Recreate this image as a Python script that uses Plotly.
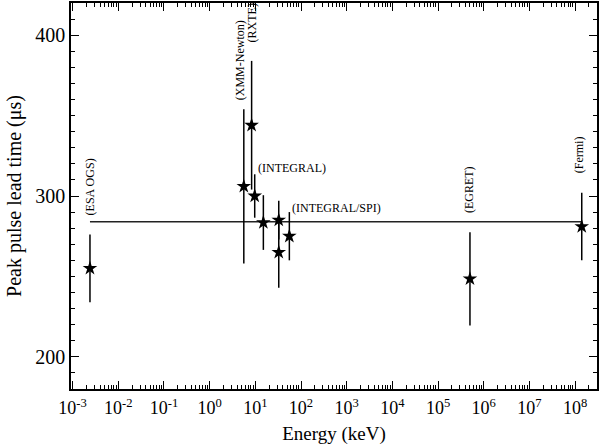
import math
import plotly.graph_objects as go

#################
# Data
#################
energy_kev = [2.4e-3, 5.6, 8.3, 9.7, 15, 32.6, 32.6, 55.6, 5.0e5, 1.4e8]
lead_time = [255, 306, 344, 300, 283.5, 285, 265, 275, 248.5, 281]
lead_err = [21, 48, 40, 13.5, 17, 12, 22, 15, 29, 21]

mean_lead = 284  # weighted mean, drawn across the energy range

label_text = ["(ESA OGS)", "(XMM-Newton)", "(RXTE)", "(INTEGRAL)",
              "(INTEGRAL/SPI)", "(EGRET)", "(Fermi)"]
label_energy = [2.4e-3, 4.7, 8.5, 9.7, 55.6, 4.6e5, 1.2e8]
label_y = [287, 358.5, 394, 317.5, 292.5, 288, 313]
label_rot = [-90, -90, -90, 0, 0, -90, -90]

tick_exp = list(range(-3, 9))

serif = "Liberation Serif, Times New Roman, serif"

fig = go.Figure()

# mean line from first to last measurement
fig.add_trace(go.Scatter(
    x=[energy_kev[0], energy_kev[-1]],
    y=[mean_lead, mean_lead],
    mode="lines",
    line=dict(color="#222222", width=1.5),
    hoverinfo="skip",
))

# measurements with error bars
fig.add_trace(go.Scatter(
    x=energy_kev,
    y=lead_time,
    mode="markers",
    marker=dict(symbol="star", size=11, color="black"),
    error_y=dict(type="data", array=lead_err, color="black", thickness=1.5, width=0),
))

# instrument labels (annotations on a log axis take log10 of x)
for txt, ex, ly, rot in zip(label_text, label_energy, label_y, label_rot):
    if rot == 0:
        fig.add_annotation(x=math.log10(ex), y=ly, text=txt, showarrow=False,
                           xanchor="left", yanchor="middle", xshift=1,
                           font=dict(family=serif, size=12, color="black"))
    else:
        fig.add_annotation(x=math.log10(ex), y=ly, text=txt, showarrow=False,
                           textangle=rot, xanchor="center", yanchor="bottom",
                           font=dict(family=serif, size=12, color="black"))

axis_style = dict(
    showline=True, linecolor="black", linewidth=1.5, mirror="allticks",
    ticks="inside", tickcolor="black", tickwidth=1.2, ticklen=8,
    showgrid=False, zeroline=False, automargin=False,
)

fig.update_xaxes(
    type="log",
    range=[-3.035, 8.48],
    tickvals=[10 ** e for e in tick_exp],
    ticktext=["10<sup>%d</sup>" % e for e in tick_exp],
    tickfont=dict(family=serif, size=18, color="black"),
    ticklabelstandoff=2,
    minor=dict(ticks="inside", ticklen=4, tickcolor="black", tickwidth=1, dtick="D1"),
    title=dict(text="Energy (keV)", font=dict(family=serif, size=19, color="black"), standoff=9),
    **axis_style,
)
fig.update_yaxes(
    range=[180, 420],
    dtick=100,
    tickfont=dict(family=serif, size=20, color="black"),
    minor=dict(ticks="inside", ticklen=4, tickcolor="black", tickwidth=1, dtick=10),
    title=dict(text="Peak pulse lead time (μs)", font=dict(family=serif, size=20, color="black"), standoff=8),
    **axis_style,
)

fig.update_layout(
    width=600, height=447,
    margin=dict(l=71, r=3, t=3, b=58),
    plot_bgcolor="white", paper_bgcolor="white",
    showlegend=False,
)

# page body has a default 8px margin, drop it so the figure sits at 0,0
fig.write_html("out.html", config={"displayModeBar": False},
               post_script="document.body.style.margin='0';")
